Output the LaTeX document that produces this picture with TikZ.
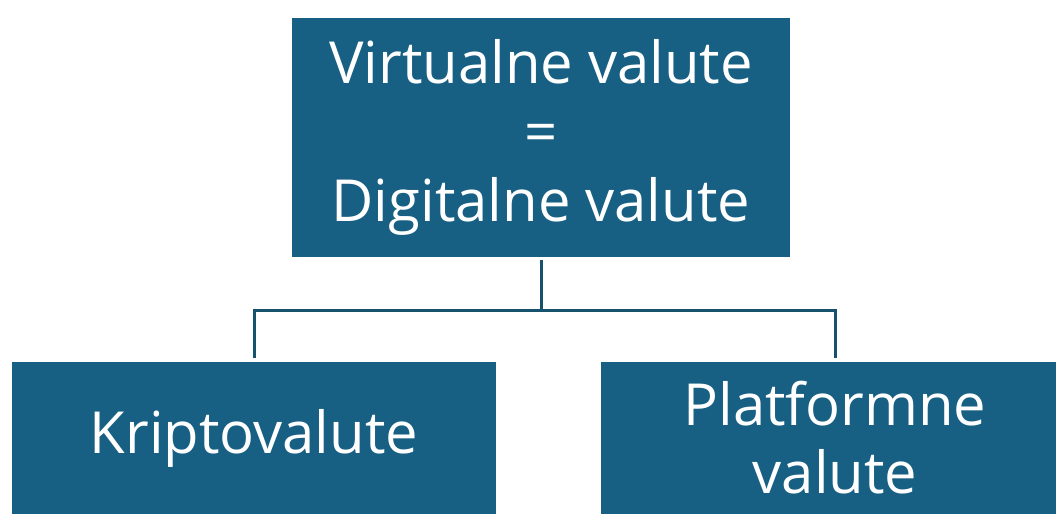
\documentclass[tikz,border=0pt]{standalone}
\usepackage{fontspec}
\setmainfont{Open Sans}
\usepackage{tikz}

\definecolor{boxblue}{RGB}{24,96,131}
\definecolor{linkblue}{RGB}{22,82,110}

\begin{document}
\begin{tikzpicture}[x=1pt,y=-1pt,
  box/.style={fill=boxblue,text=white,inner sep=0pt,align=center,
    font=\fontsize{58}{69}\selectfont},
  link/.style={draw=linkblue,line width=3pt}]
\useasboundingbox (0,0) rectangle (1056,514);
\node[box,minimum width=498pt,minimum height=239pt] (top) at (541,137.5)
  {Virtualne valute\\=\\Digitalne valute};
\node[box,minimum width=484pt,minimum height=152pt] (kripto) at (254,438)
  {Kriptovalute};
\node[box,minimum width=468pt,minimum height=152pt,
  font=\fontsize{58}{68}\selectfont] (platform) at (835,438)
  {Platformne\\valute};
\coordinate (split) at (541,310);
\draw[link] ([yshift=-3pt]top.south) -- (split);
\draw[link] ([yshift=4pt]kripto.north) |- (split) -| ([yshift=4pt]platform.north);
\end{tikzpicture}
\end{document}
